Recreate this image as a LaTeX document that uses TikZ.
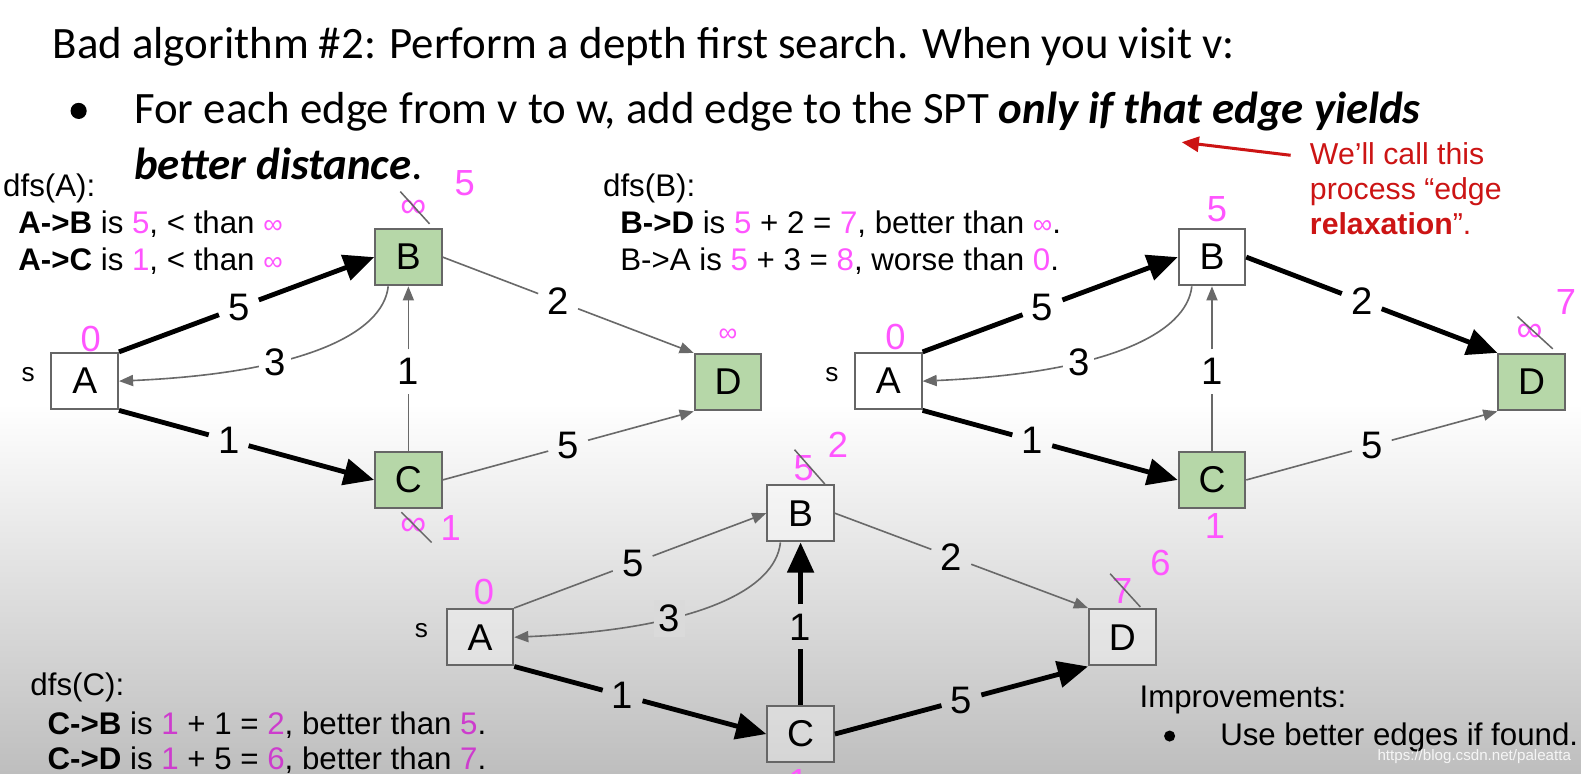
\documentclass[tikz,border=0pt]{standalone}
\usepackage{fontspec}
\setmainfont{Liberation Sans}
\newfontfamily\calibri{Carlito}
\usetikzlibrary{arrows.meta}
\definecolor{pk}{RGB}{255,85,255}
\definecolor{pkd}{RGB}{205,60,205}
\definecolor{ngreen}{RGB}{182,215,168}
\definecolor{bgray}{RGB}{102,102,102}
\definecolor{egray}{RGB}{105,105,105}
\definecolor{rred}{RGB}{204,20,20}
\definecolor{bgbot}{RGB}{190,190,190}
\definecolor{bgmid}{RGB}{218,218,218}
\tikzset{
 vbox/.style={draw=bgray, line width=2pt, minimum width=66pt, minimum height=56pt, inner sep=0pt, font=\fontsize{37}{37}\selectfont},
 gbox/.style={vbox, fill=ngreen},
 wbox/.style={vbox, fill=white},
 lbox/.style={vbox, fill=white, fill opacity=0.35, text opacity=1},
 elab/.style={font=\fontsize{38}{38}\selectfont, inner sep=9pt},
 hv/.style={line width=4.8pt, draw=black},
 hva/.style={hv, -{Triangle[length=30pt,width=26pt]}},
 lt/.style={line width=1.6pt, draw=egray},
 lta/.style={lt, -{Triangle[length=14pt,width=11pt]}},
 pknum/.style={text=pk, font=\fontsize{36}{36}\selectfont, inner sep=0pt},
 pksmall/.style={text=pk, font=\fontsize{26}{26}\selectfont, inner sep=0pt},
 slash/.style={draw=bgray, line width=1.5pt},
 txt/.style={anchor=base west, inner sep=0pt, font=\fontsize{31}{36}\selectfont},
 ttl/.style={anchor=base west, inner sep=0pt, font=\calibri\fontsize{44.5}{50}\selectfont},
 rtxt/.style={anchor=base west, inner sep=0pt, text=rred, font=\fontsize{30}{34}\selectfont},
 slab/.style={font=\fontsize{26}{26}\selectfont, inner sep=0pt},
}
\newcommand{\pkt}[1]{\textcolor{pk}{#1}}
\newcommand{\pkdt}[1]{\textcolor{pkd}{#1}}
\newcommand{\inft}{{\fontsize{27}{27}\selectfont ∞}}
\begin{document}
\begin{tikzpicture}[x=1pt,y=-1pt]
\useasboundingbox (0,0) rectangle (1568,767);
\fill[white] (0,0) rectangle (1568,767);
\shade[top color=white, bottom color=bgbot] (0,400) rectangle (1568,767);

% ---------- title ----------
\node[ttl] (title) at (52,58) {Bad algorithm \#2: Perform a depth first search. When you visit v:};
\fill (78,110) circle (8);
\node[ttl] (line2) at (133,122) {For each edge from v to w, add edge to the SPT \textbf{\textit{only if that edge yields}}};
\node[ttl] (line3) at (133,178) {\textbf{\textit{better distance}}.};

% red note
\coordinate (rs) at (1280,154);
\coordinate (re) at (1172,141);
\draw[rred, line width=3pt, -{Triangle[length=17pt,width=15pt]}] (rs) -- (re);
\node[rtxt] (r1) at (1299,163) {We’ll call this};
\node[rtxt] (r2) at (1299,198) {process “edge};
\node[rtxt] (r3) at (1299,233) {\textbf{relaxation}”.};

% ---------- dfs texts ----------
\node[txt] (da0) at (3,195) {dfs(A):};
\node[txt] (da1) at (18,232) {\textbf{A->B} is \pkt{5}, < than \pkt{\inft}};
\node[txt] (da2) at (18,268) {\textbf{A->C} is \pkt{1}, < than \pkt{\inft}};

\node[txt] (db0) at (598,195) {dfs(B):};
\node[txt] (db1) at (615,232) {\textbf{B->D} is \pkt{5} + 2 = \pkt{7}, better than \pkt{\inft}.};
\node[txt] (db2) at (615,268) {B->A is \pkt{5} + 3 = \pkt{8}, worse than \pkt{0}.};

\node[txt] (dc0) at (30,690) {dfs(C):};
\node[txt] (dc1) at (47,728) {\textbf{C->B} is \pkdt{1} + 1 = \pkdt{2}, better than \pkdt{5}.};
\node[txt] (dc2) at (47,763) {\textbf{C->D} is \pkdt{1} + 5 = \pkdt{6}, better than \pkdt{7}.};

\node[txt] (imp0) at (1130,702) {Improvements:};
\fill (1160,730) circle (5.5);
\node[txt] (imp1) at (1210,739) {Use better edges if found.};

\node[anchor=base west, inner sep=0pt, font=\fontsize{15}{15}\selectfont, text=white, text opacity=0.85] (wm) at (1366,754) {https://blog.csdn.net/paleatta};

% ---------- graph 1 ----------
\node[wbox] (g1A) at (84,378) {A};
\node[gbox] (g1B) at (405,255) {B};
\node[gbox] (g1C) at (405,476) {C};
\node[gbox] (g1D) at (722,379) {D};

\path (g1A.north east) -- node[elab,pos=0.47] (g1ab) {5} (g1B.west);
\draw[hv] (g1A.north east) -- (g1ab);
\draw[hva] (g1ab) -- (g1B.west);
\path (g1A.south east) -- node[elab,pos=0.43] (g1ac) {1} (g1C.west);
\draw[hv] (g1A.south east) -- (g1ac);
\draw[hva] (g1ac) -- (g1C.west);
\path (g1C.north) -- node[elab,pos=0.48] (g1cb) {1} (g1B.south);
\draw[lt] (g1C.north) -- (g1cb);
\draw[lta] (g1cb) -- (g1B.south);
\path (g1B.east) -- node[elab,pos=0.46] (g1bd) {2} (g1D.north west);
\draw[lt] (g1B.east) -- (g1bd);
\draw[lta] (g1bd) -- (g1D.north west);
\path (g1C.east) -- node[elab,pos=0.5] (g1cd) {5} (g1D.south west);
\draw[lt] (g1C.east) -- (g1cd);
\draw[lta] (g1cd) -- (g1D.south west);
\draw[lta] ([xshift=-20pt]g1B.south) .. controls +(-5,47) and +(182,-8) .. (g1A.east) node[pos=0.65, elab, inner sep=5pt, fill=white] (g1ba) {3};

\node[slab] (g1s) at (28,372) {s};
\node[pknum] (g1a0) at (90,336) {0};
\node[pknum] (g1binf) at (410,207) {∞};
\draw[slash] (397,190) -- (426,222);
\node[pknum] (g1b5) at (461,182) {5};
\node[pknum] (g1cinf) at (410,522) {∞};
\draw[slash] (398,508) -- (428,538);
\node[pknum] (g1c1) at (447,524) {1};
\node[pksmall] (g1dinf) at (722,332) {∞};

% ---------- graph 2 ----------
\node[wbox] (g2A) at (881,378) {A};
\node[wbox] (g2B) at (1202,255) {B};
\node[gbox] (g2C) at (1202,476) {C};
\node[gbox] (g2D) at (1519,379) {D};

\path (g2A.north east) -- node[elab,pos=0.47] (g2ab) {5} (g2B.west);
\draw[hv] (g2A.north east) -- (g2ab);
\draw[hva] (g2ab) -- (g2B.west);
\path (g2A.south east) -- node[elab,pos=0.43] (g2ac) {1} (g2C.west);
\draw[hv] (g2A.south east) -- (g2ac);
\draw[hva] (g2ac) -- (g2C.west);
\path (g2C.north) -- node[elab,pos=0.48] (g2cb) {1} (g2B.south);
\draw[lt] (g2C.north) -- (g2cb);
\draw[lta] (g2cb) -- (g2B.south);
\path (g2B.east) -- node[elab,pos=0.46] (g2bd) {2} (g2D.north west);
\draw[hv] (g2B.east) -- (g2bd);
\draw[hva] (g2bd) -- (g2D.north west);
\path (g2C.east) -- node[elab,pos=0.5] (g2cd) {5} (g2D.south west);
\draw[lt] (g2C.east) -- (g2cd);
\draw[lta] (g2cd) -- (g2D.south west);
\draw[lta] ([xshift=-20pt]g2B.south) .. controls +(-5,47) and +(182,-8) .. (g2A.east) node[pos=0.65, elab, inner sep=5pt, fill=white] (g2ba) {3};

\node[slab] (g2s) at (825,372) {s};
\node[pknum] (g2a0) at (888,334) {0};
\node[pknum] (g2b5) at (1207,207) {5};
\node[pknum] (g2c1) at (1205,522) {1};
\node[pknum] (g2dinf) at (1517,330) {∞};
\draw[slash] (1505,314) -- (1540,346);
\node[pknum] (g2d7) at (1553,300) {7};

% ---------- graph 3 ----------
\node[lbox] (g3A) at (476,632) {A};
\node[lbox] (g3B) at (794,509) {B};
\node[lbox] (g3C) at (794,728) {C};
\node[lbox] (g3D) at (1113,632) {D};

\path (g3A.north east) -- node[elab,pos=0.47] (g3ab) {5} (g3B.west);
\draw[lt] (g3A.north east) -- (g3ab);
\draw[lta] (g3ab) -- (g3B.west);
\path (g3A.south east) -- node[elab,pos=0.43] (g3ac) {1} (g3C.west);
\draw[hv] (g3A.south east) -- (g3ac);
\draw[hva] (g3ac) -- (g3C.west);
\path (g3C.north) -- node[elab,pos=0.48] (g3cb) {1} (g3B.south);
\draw[hv] (g3C.north) -- (g3cb);
\draw[hva] (g3cb) -- (g3B.south);
\path (g3B.east) -- node[elab,pos=0.46] (g3bd) {2} (g3D.north west);
\draw[lt] (g3B.east) -- (g3bd);
\draw[lta] (g3bd) -- (g3D.north west);
\path (g3C.east) -- node[elab,pos=0.5] (g3cd) {5} (g3D.south west);
\draw[hv] (g3C.east) -- (g3cd);
\draw[hva] (g3cd) -- (g3D.south west);
\draw[lta] ([xshift=-20pt]g3B.south) .. controls +(-5,47) and +(182,-8) .. (g3A.east) node[pos=0.65, elab, inner sep=5pt, fill=bgmid] (g3ba) {3};

\node[slab] (g3s) at (418,625) {s};
\node[pknum] (g3a0) at (480,587) {0};
\node[pknum] (g3b5) at (797,464) {5};
\draw[slash] (788,446) -- (818,480);
\node[pknum] (g3b2) at (831,441) {2};
\node[pknum] (g3d7) at (1113,586) {7};
\draw[slash] (1101,569) -- (1131,602);
\node[pknum] (g3d6) at (1151,558) {6};
\node[pknum] (g3c1) at (792,776) {1};
\end{tikzpicture}
\end{document}
